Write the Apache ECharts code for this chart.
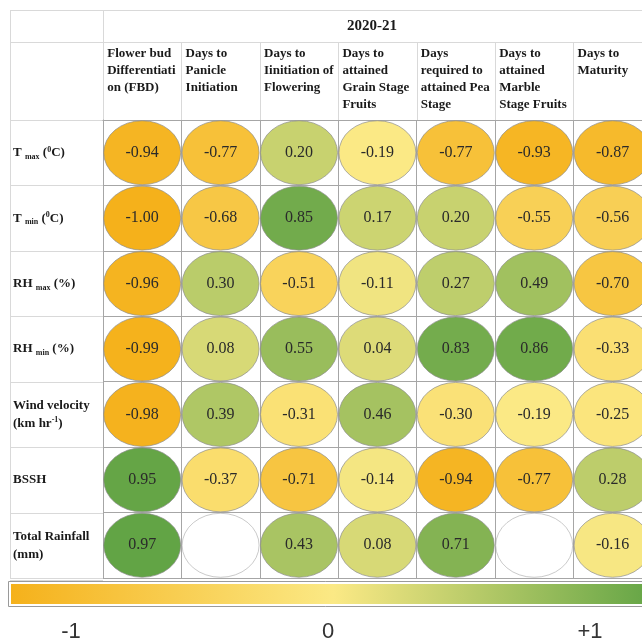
<!DOCTYPE html>
<html>
<head>
<meta charset="utf-8">
<script src="https://cdn.jsdelivr.net/npm/echarts@6/dist/echarts.min.js"></script>
<style>
  html, body { margin: 0; padding: 0; background: #fff; }
  #chart { width: 642px; height: 640px; }
</style>
</head>
<body>
<div id="chart"></div>
<script>
// 2020-21 correlation: weather parameters (rows) x phenophases (columns)
var stages = [
    'Flower bud\nDifferentiati\non (FBD)',
    'Days to\nPanicle\nInitiation',
    'Days to\nIinitiation of\nFlowering',
    'Days to\nattained\nGrain Stage\nFruits',
    'Days\nrequired to\nattained Pea\nStage',
    'Days to\nattained\nMarble\nStage Fruits',
    'Days to\nMaturity'
];
var params = ['Tmax', 'Tmin', 'RHmax', 'RHmin', 'Wind', 'BSSH', 'Rain'];

var tMax     = [-0.94, -0.77,  0.20, -0.19, -0.77, -0.93, -0.87];
var tMin     = [-1.00, -0.68,  0.85,  0.17,  0.20, -0.55, -0.56];
var rhMax    = [-0.96,  0.30, -0.51, -0.11,  0.27,  0.49, -0.70];
var rhMin    = [-0.99,  0.08,  0.55,  0.04,  0.83,  0.86, -0.33];
var wind     = [-0.98,  0.39, -0.31,  0.46, -0.30, -0.19, -0.25];
var bssh     = [ 0.95, -0.37, -0.71, -0.14, -0.94, -0.77,  0.28];
var rainfall = [ 0.97,  null,  0.43,  0.08,  0.71,  null, -0.16];

var scaleTicks = ['-1', '0', '+1'];

var rowValues = [tMax, tMin, rhMax, rhMin, wind, bssh, rainfall];

// row labels with sub/superscripts
var rowLabels = {
    Tmax: '{b|T }{sub|max}{b| (}{sup|0}{b|C)}',
    Tmin: '{b|T }{sub|min}{b| (}{sup|0}{b|C)}',
    RHmax: '{b|RH }{sub|max}{b| (%)}',
    RHmin: '{b|RH }{sub|min}{b| (%)}',
    Wind: '{b|Wind velocity}\n{b|(km hr}{sup|-1}{b|)}',
    BSSH: '{b|BSSH}',
    Rain: '{b|Total Rainfall}\n{b|(mm)}'
};

var SERIF = '"Liberation Serif", "Times New Roman", serif';

// three-colour scale like Excel: min -> orange, 50th percentile -> yellow, max -> green
var lowColor = '#F5B11B', midColor = '#FBE985', highColor = '#62A445';
var allVals = [];
rowValues.forEach(function (row) { row.forEach(function (v) { if (v !== null) allVals.push(v); }); });
allVals.sort(function (a, b) { return a - b; });
var vMin = allVals[0], vMax = allVals[allVals.length - 1];
var vMid = allVals[Math.floor(allVals.length / 2)];
function scaleColor(v) {
    if (v <= vMid) {
        return echarts.color.lerp((v - vMin) / (vMid - vMin), [lowColor, midColor]);
    }
    return echarts.color.lerp((v - vMid) / (vMax - vMid), [midColor, highColor]);
}

// layout of the table
var gLeft = 103, gTop = 120, colW = 78.4, rowH = 65.43;
var gW = colW * stages.length, gH = rowH * params.length;

var cells = [], blanks = [];
rowValues.forEach(function (row, r) {
    row.forEach(function (v, c) {
        if (v === null) {
            blanks.push([c, r]);
        } else {
            cells.push([c, r, v]);
        }
    });
});

// table rules outside the grid
var lightLine = '#D9D9D9';
var graphics = [];
function hline(x1, x2, y, color) {
    graphics.push({ type: 'line', silent: true, shape: { x1: x1, y1: y, x2: x2, y2: y }, style: { stroke: color, lineWidth: 1 } });
}
function vline(x, y1, y2, color) {
    graphics.push({ type: 'line', silent: true, shape: { x1: x, y1: y1, x2: x, y2: y2 }, style: { stroke: color, lineWidth: 1 } });
}
hline(10, 642, 10.5, lightLine);
hline(10, 642, 42.5, lightLine);
vline(10.5, 10, gTop + gH, lightLine);
vline(gLeft + 0.5, 10, gTop, lightLine);
for (var k = 1; k < stages.length; k++) {
    vline(Math.round(gLeft + k * colW) + 0.5, 42, gTop, lightLine);
}
for (var j = 0; j <= params.length; j++) {
    hline(10, gLeft, Math.round(gTop + j * rowH) + 0.5, lightLine);
}
hline(10, gLeft, gTop + gH + 2.5, lightLine);

graphics.push({
    type: 'text', x: 372, y: 26,
    style: { text: '2020-21', fontFamily: SERIF, fontWeight: 'bold', fontSize: 15, fill: '#1a1a1a', align: 'center', verticalAlign: 'middle' }
});

// colour bar with frame and tick labels
graphics.push({
    type: 'rect', silent: true,
    shape: { x: 8.5, y: 581.5, width: 650, height: 25 },
    style: { fill: null, stroke: '#9A9A9A', lineWidth: 1 }
});
graphics.push({
    type: 'rect', silent: true,
    shape: { x: 11, y: 584, width: 645, height: 20 },
    style: {
        fill: new echarts.graphic.LinearGradient(0, 0, 1, 0, [
            { offset: 0, color: lowColor },
            { offset: 0.5, color: midColor },
            { offset: 1, color: highColor }
        ])
    }
});
var tickX = [71, 328, 590];
scaleTicks.forEach(function (t, i) {
    graphics.push({
        type: 'text', x: tickX[i], y: 621,
        style: { text: t, fontFamily: '"Liberation Sans", Arial, sans-serif', fontSize: 22, fill: '#333', align: 'center', verticalAlign: 'top' }
    });
});

var chart = echarts.init(document.getElementById('chart'));

var option = {
    animation: false,
    backgroundColor: '#fff',
    grid: { left: gLeft, top: gTop, width: gW, height: gH, containLabel: false, outerBoundsMode: 'none' },
    xAxis: {
        type: 'category',
        position: 'top',
        data: stages,
        boundaryGap: true,
        axisTick: { show: false },
        axisLine: { show: true, lineStyle: { color: '#A6A6A6', width: 1 } },
        splitLine: { show: true, interval: 0, lineStyle: { color: '#A6A6A6', width: 1 } },
        axisLabel: {
            interval: 0,
            margin: 75,
            align: 'center',
            verticalAlign: 'top',
            width: 70,
            formatter: function (val) {
                return val.split('\n').map(function (s) { return '{h|' + s + '}'; }).join('\n');
            },
            rich: {
                h: { fontFamily: SERIF, fontWeight: 'bold', fontSize: 13, color: '#1a1a1a', lineHeight: 17, align: 'left' }
            }
        }
    },
    yAxis: {
        type: 'category',
        inverse: true,
        data: params,
        boundaryGap: true,
        axisTick: { show: false },
        axisLine: { show: true, lineStyle: { color: '#A6A6A6', width: 1 } },
        splitLine: { show: true, interval: 0, lineStyle: { color: '#A6A6A6', width: 1 } },
        axisLabel: {
            interval: 0,
            margin: 90,
            align: 'left',
            formatter: function (val) { return rowLabels[val]; },
            rich: {
                b: { fontFamily: SERIF, fontWeight: 'bold', fontSize: 13, color: '#1a1a1a', lineHeight: 18 },
                sub: { fontFamily: SERIF, fontWeight: 'bold', fontSize: 8, color: '#1a1a1a', lineHeight: 18, verticalAlign: 'bottom', padding: [0, 0, 1, 0] },
                sup: { fontFamily: SERIF, fontWeight: 'bold', fontSize: 8, color: '#1a1a1a', lineHeight: 18, verticalAlign: 'top', padding: [2, 0, 0, 0] }
            }
        }
    },
    graphic: graphics,
    series: [
        {
            type: 'scatter',
            data: cells,
            symbol: 'circle',
            symbolSize: [77, 64],
            itemStyle: {
                color: function (p) { return scaleColor(p.value[2]); },
                borderColor: '#8C8C8C', borderWidth: 0.7, opacity: 1
            },
            label: {
                show: true,
                position: 'inside',
                fontFamily: SERIF,
                fontSize: 16,
                color: '#2a2a2a',
                formatter: function (p) { return p.value[2].toFixed(2); }
            },
            emphasis: { disabled: true }
        },
        {
            type: 'scatter',
            data: blanks,
            symbol: 'circle',
            symbolSize: [77, 64],
            itemStyle: { color: '#fff', borderColor: '#A0A0A0', borderWidth: 0.7 },
            emphasis: { disabled: true }
        }
    ]
};

chart.setOption(option);
</script>
</body>
</html>
